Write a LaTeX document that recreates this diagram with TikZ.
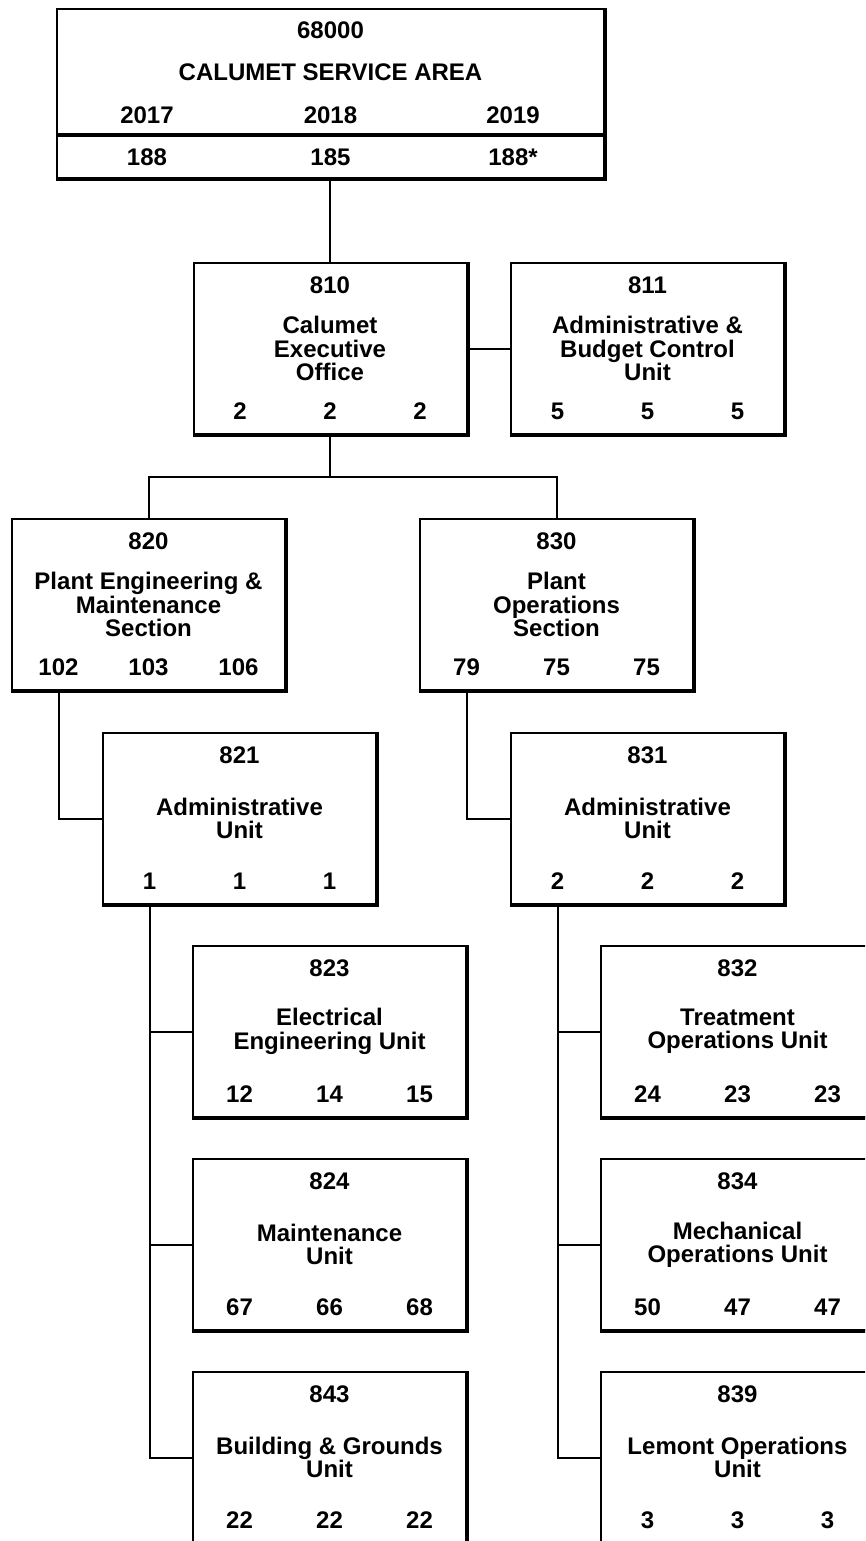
\documentclass[tikz,border=0pt]{standalone}
\usepackage{fontspec}
\setmainfont{Liberation Sans}

% one box of the chart: name, centre x, centre y, code, title, three counts
\newcommand{\orgunit}[8]{%
  \node[unitbox] (#1) at (#2,#3) {};
  \draw[heavy] ([xshift=0.85pt,yshift=0.75pt]#1.north east) -- ([xshift=0.85pt,yshift=-0.85pt]#1.south east) -- ([xshift=-0.75pt,yshift=-0.85pt]#1.south west);
  \node[tally] (#1-code) at ([yshift=-16.5pt]#1.north) {#4};
  \node[unittext] (#1-name) at (#1.center) {#5};
  \node[tally] (#1-a) at ([xshift=-67.5pt,yshift=17.25pt]#1.south) {#6};
  \node[tally] (#1-b) at ([yshift=17.25pt]#1.south) {#7};
  \node[tally] (#1-c) at ([xshift=67.5pt,yshift=17.25pt]#1.south) {#8};
}

\begin{document}
\begin{tikzpicture}[x=0.75pt,y=-0.75pt,
    unitbox/.style={draw, line width=1.5pt, inner sep=0pt, outer sep=0pt,
      minimum width=204.75pt, minimum height=128.25pt},
    heavy/.style={line width=3.2pt},
    unittext/.style={inner sep=0pt, align=center,
      font=\fontsize{18pt}{17.5pt}\selectfont\bfseries},
    tally/.style={unittext, text height=12.9pt, text depth=0pt},
    link/.style={line width=1.5pt}]
    \useasboundingbox (0,0) rectangle (865,1541);
    \clip (0,0) rectangle (865,1541);

    % service area at the top
    \node[unitbox, minimum width=410.25pt, minimum height=126.75pt] (csa) at (330.5,93.5) {};
    \draw[heavy] ([xshift=0.85pt,yshift=0.75pt]csa.north east) -- ([xshift=0.85pt,yshift=-0.85pt]csa.south east) -- ([xshift=-0.75pt,yshift=-0.85pt]csa.south west);
    \draw[heavy] ([yshift=32.25pt]csa.south west) -- ([yshift=32.25pt]csa.south east);
    \node[tally] (csa-code) at (330.5,30) {68000};
    \node[unittext] (csa-name) at (330.5,72) {CALUMET SERVICE AREA};
    \node[tally] (csa-y1) at (147,115) {2017};
    \node[tally] (csa-y2) at (330.5,115) {2018};
    \node[tally] (csa-y3) at (513,115) {2019};
    \node[tally] (csa-a) at (147,157) {188};
    \node[tally] (csa-b) at (330.5,157) {185};
    \node[tally] (csa-c) at (513,157) {188*};

    \orgunit{u810}{330}{348.5}{810}{Calumet\\Executive\\Office}{2}{2}{2}
    \orgunit{u811}{647.5}{348.5}{811}{Administrative \&\\Budget Control\\Unit}{5}{5}{5}

    \orgunit{u820}{148.5}{604.5}{820}{Plant Engineering \&\\Maintenance\\Section}{102}{103}{106}
    \orgunit{u830}{556.5}{604.5}{830}{Plant\\Operations\\Section}{79}{75}{75}

    \orgunit{u821}{239.5}{818.5}{821}{Administrative\\Unit}{1}{1}{1}
    \orgunit{u831}{647.5}{818.5}{831}{Administrative\\Unit}{2}{2}{2}

    \orgunit{u823}{329.5}{1031.5}{823}{Electrical\\Engineering Unit}{12}{14}{15}
    \orgunit{u824}{329.5}{1244.5}{824}{Maintenance\\Unit}{67}{66}{68}
    \orgunit{u843}{329.5}{1457.5}{843}{Building \& Grounds\\Unit}{22}{22}{22}

    \orgunit{u832}{737.5}{1031.5}{832}{Treatment\\Operations Unit}{24}{23}{23}
    \orgunit{u834}{737.5}{1244.5}{834}{Mechanical\\Operations Unit}{50}{47}{47}
    \orgunit{u839}{737.5}{1457.5}{839}{Lemont Operations\\Unit}{3}{3}{3}

    % connectors
    \coordinate (fork) at (330,477);
    \draw[link] (csa.south -| u810.north) -- (u810.north);
    \draw[link] (u810.east) -- (u811.west);
    \draw[link] (u810.south) -- (fork);
    \draw[link] (u820.north) |- (fork) -| (u830.north);

    \draw[link] (u820.south -| u820-a) |- (u821.west);
    \draw[link] (u830.south -| u830-a) |- (u831.west);

    \draw[link] (u821.south -| u821-a) |- (u843.west);
    \draw[link] (u823.west -| u821-a) -- (u823.west);
    \draw[link] (u824.west -| u821-a) -- (u824.west);

    \draw[link] (u831.south -| u831-a) |- (u839.west);
    \draw[link] (u832.west -| u831-a) -- (u832.west);
    \draw[link] (u834.west -| u831-a) -- (u834.west);
\end{tikzpicture}
\end{document}
